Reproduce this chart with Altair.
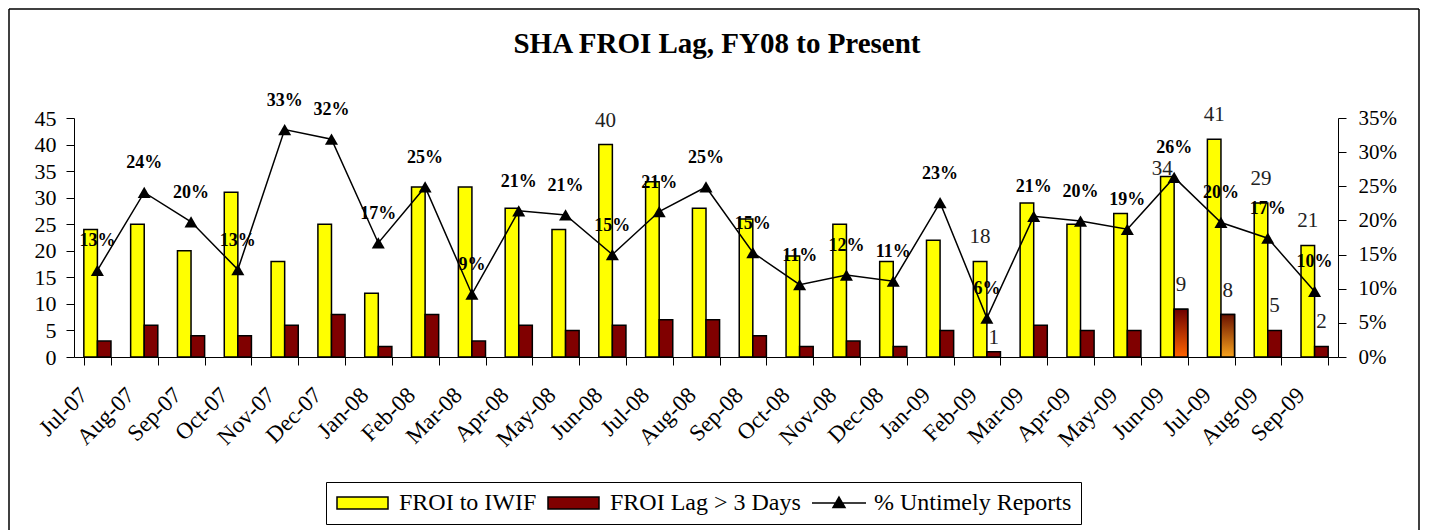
import altair as alt
import pandas as pd

# ---------------- data ----------------
months = ["Jul-07", "Aug-07", "Sep-07", "Oct-07", "Nov-07", "Dec-07", "Jan-08", "Feb-08",
          "Mar-08", "Apr-08", "May-08", "Jun-08", "Jul-08", "Aug-08", "Sep-08", "Oct-08",
          "Nov-08", "Dec-08", "Jan-09", "Feb-09", "Mar-09", "Apr-09", "May-09", "Jun-09",
          "Jul-09", "Aug-09", "Sep-09"]
froi_to_iwif = [24, 25, 20, 31, 18, 25, 12, 32, 32, 28, 24, 40, 33, 28, 26, 19, 25, 18,
                22, 18, 29, 25, 27, 34, 41, 29, 21]
froi_lag = [3, 6, 4, 4, 6, 8, 2, 8, 3, 6, 5, 6, 7, 7, 4, 2, 3, 2, 5, 1, 6, 5, 5, 9, 8, 5, 2]
untimely_pct = [0.127, 0.241, 0.198, 0.128, 0.333, 0.319, 0.167, 0.249, 0.092, 0.214,
                0.208, 0.150, 0.213, 0.249, 0.153, 0.106, 0.120, 0.111, 0.226, 0.057,
                0.206, 0.199, 0.187, 0.263, 0.197, 0.174, 0.096]
froi_label_months = ["Jun-08", "Feb-09", "Jun-09", "Jul-09", "Aug-09", "Sep-09"]
lag_label_months = ["Feb-09", "Jun-09", "Jul-09", "Aug-09", "Sep-09"]
froi_label_near_months = ["Jun-09"]   # labels drawn close to the bar top
lag_label_near_months = ["Feb-09"]
gradient_months = ["Jun-09", "Jul-09"]

S1, S2, S3 = "FROI to IWIF", "FROI Lag > 3 Days", "% Untimely Reports"
series_names = [S1, S2, S3]
TITLE = "SHA FROI Lag, FY08 to Present"

rows = []
for i, m in enumerate(months):
    rows.append({"month": m, "series": S1, "value": froi_to_iwif[i],
                 "label": m in froi_label_months, "near": m in froi_label_near_months,
                 "grad": ""})
    rows.append({"month": m, "series": S2, "value": froi_lag[i],
                 "label": m in lag_label_months, "near": m in lag_label_near_months,
                 "grad": m if m in gradient_months else ""})
bars_df = pd.DataFrame(rows)
line_df = pd.DataFrame({"month": months, "pct": untimely_pct})
legend_df = pd.DataFrame({"series": series_names})
deco_df = pd.DataFrame({"k": [0]})

# ---------------- style ----------------
FONT = "Liberation Serif"
W, H = 1264, 239
YELLOW, MAROON = "#FFFF00", "#800000"

x_axis = alt.Axis(title=None, labelAngle=-45, labelAlign="right", labelBaseline="alphabetic",
                  labelFont=FONT, labelFontSize=23, labelColor="black", tickBand="extent",
                  tickSize=8, tickColor="black", domainColor="black", labelPadding=31,
                  labelOffset=-9, labelOverlap=False)
x_enc = alt.X("month:N", sort=months,
              scale=alt.Scale(paddingInner=0.42, paddingOuter=0.21), axis=x_axis)
xoff_enc = alt.XOffset("series:N", sort=[S1, S2],
                       scale=alt.Scale(domain=[S1, S2], paddingInner=0, paddingOuter=0))

y_left = alt.Y("value:Q", scale=alt.Scale(domain=[0, 45], nice=False),
               axis=alt.Axis(title=None, orient="left", values=list(range(0, 50, 5)),
                             labelFont=FONT, labelFontSize=22, labelColor="black",
                             tickSize=8, tickColor="black", domainColor="black",
                             labelPadding=10, grid=False))
y_right = alt.Y("pct:Q", scale=alt.Scale(domain=[0, 0.35], nice=False),
                axis=alt.Axis(title=None, orient="right", format=".0%",
                              values=[0, 0.05, 0.10, 0.15, 0.20, 0.25, 0.30, 0.35],
                              labelFont=FONT, labelFontSize=21, labelColor="black",
                              tickSize=8, tickColor="black", domainColor="black",
                              labelPadding=12, grid=False))

bars = alt.Chart(bars_df).mark_bar(stroke="black", strokeWidth=1.5).encode(
    x=x_enc, xOffset=xoff_enc, y=y_left,
    fill=alt.Fill("series:N", scale=alt.Scale(domain=[S1, S2], range=[YELLOW, MAROON]),
                  legend=None),
)


def gradient_bar(month, top, bottom):
    return alt.Chart(bars_df).mark_bar(
        stroke="black", strokeWidth=1.5,
        fill=alt.Gradient(gradient="linear",
                          stops=[alt.GradientStop(color=top, offset=0),
                                 alt.GradientStop(color=bottom, offset=1)],
                          x1=0, x2=0, y1=0, y2=1),
    ).encode(x=x_enc, xOffset=xoff_enc, y=y_left).transform_filter(
        alt.datum.grad == month)


grad_a = gradient_bar(gradient_months[0], "#6e0000", "#ff6400")
grad_b = gradient_bar(gradient_months[1], "#6a1200", "#f7a21c")


def value_text(filter_expr, dy, dx=0):
    return alt.Chart(bars_df).mark_text(
        font=FONT, fontSize=21, color="#222222", baseline="alphabetic", dy=dy, dx=dx
    ).encode(x=x_enc, xOffset=xoff_enc, y=y_left, text="value:Q").transform_filter(filter_expr)


bar_text = value_text("datum.label && !datum.near", -18)
bar_text_near_froi = value_text(f"datum.label && datum.near && datum.series == '{S1}'", -1, -5)
bar_text_near_lag = value_text(f"datum.label && datum.near && datum.series == '{S2}'", -8)

left_layer = alt.layer(bars, grad_a, grad_b, bar_text, bar_text_near_froi, bar_text_near_lag)

line = alt.Chart(line_df).mark_line(color="black", strokeWidth=1.5).encode(x=x_enc, y=y_right)
points = alt.Chart(line_df).mark_point(shape="triangle-up", filled=True, color="black",
                                       size=170, opacity=1).encode(x=x_enc, y=y_right)
pct_text = alt.Chart(line_df).mark_text(
    font=FONT, fontSize=18, fontWeight="bold", color="black", baseline="alphabetic", dy=-24
).encode(x=x_enc, y=y_right, text=alt.Text("pct:Q", format=".0%"))

right_layer = alt.layer(line, points, pct_text)

# legend symbols: unit = 10px (symbolSize 400); paths start at the symbol's left edge
RECT_PATH = "M-1,-0.6H4.1V0.6H-1Z"
LINE_PATH = "M-1,0H4.4M1.7,-0.6L2.3,0.45H1.1Z"
legend_cfg = alt.Legend(title=None, orient="none", legendX=252, legendY=364,
                        direction="horizontal", strokeColor="black", padding=9,
                        labelFont=FONT, labelFontSize=24, labelColor="black", labelLimit=0,
                        symbolSize=400, symbolStrokeColor="black", symbolStrokeWidth=1.5,
                        columnPadding=8, labelOffset=40, fillColor="white")
legend_layer = alt.Chart(legend_df).mark_point(
    filled=True, stroke="black", strokeWidth=1.5, opacity=1
).encode(
    color=alt.Color("series:N", scale=alt.Scale(domain=series_names,
                                                range=[YELLOW, MAROON, "black"]),
                    legend=legend_cfg),
    shape=alt.Shape("series:N", scale=alt.Scale(domain=series_names,
                                                range=[RECT_PATH, RECT_PATH, LINE_PATH]),
                    legend=legend_cfg),
).transform_filter("false")

title_text = alt.Chart(deco_df).mark_text(
    text=TITLE, font=FONT, fontSize=29, fontWeight="bold", color="black",
    align="center", baseline="alphabetic"
).encode(x=alt.value(643), y=alt.value(-65))

border_left = alt.Chart(deco_df).mark_rule(color="black", strokeWidth=1.5).encode(
    x=alt.value(-65), y=alt.value(-109), y2=alt.value(412))
border_right = alt.Chart(deco_df).mark_rule(color="black", strokeWidth=1.5).encode(
    x=alt.value(1345), y=alt.value(-109), y2=alt.value(412))
border_top = alt.Chart(deco_df).mark_rule(color="black", strokeWidth=1.5).encode(
    x=alt.value(-65), x2=alt.value(1345), y=alt.value(-109))

chart = alt.layer(
    left_layer, right_layer, legend_layer, title_text, border_left, border_right, border_top
).resolve_scale(y="independent").properties(
    width=W, height=H, padding=0, background="white"
).configure_view(stroke=None)

chart.save("out.html", embed_options={"renderer": "svg", "actions": False})
